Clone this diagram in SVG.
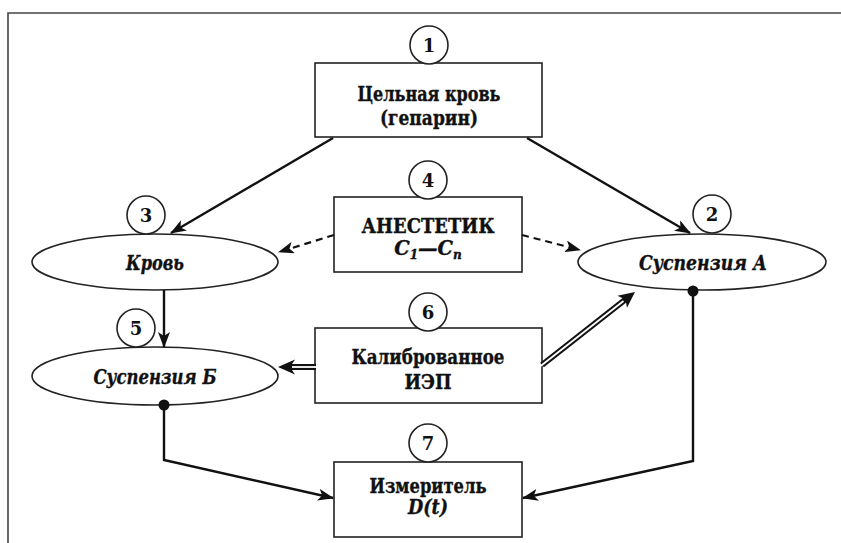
<svg xmlns="http://www.w3.org/2000/svg" width="841" height="543" viewBox="0 0 841 543" font-family="'DejaVu Serif', 'Liberation Serif', serif">
<defs>
<style>
.bx{fill:#fff;stroke:#222;stroke-width:1.6}
.el{fill:#fff;stroke:#222;stroke-width:1.6}
.num{fill:#fff;stroke:#222;stroke-width:1.6}
.t{font-weight:bold;font-size:19.5px;fill:#111;text-anchor:middle;stroke:#111;stroke-width:0.35}
.i{font-style:italic}
.n{font-weight:bold;font-size:18px;fill:#111;text-anchor:middle}
.ln{fill:none;stroke:#111;stroke-width:2.4}
.ds{fill:none;stroke:#111;stroke-width:2.2;stroke-dasharray:7 5}
</style>
<marker id="ah" viewBox="0 0 16 12" refX="15" refY="6" markerWidth="16" markerHeight="12" markerUnits="userSpaceOnUse" orient="auto">
<path d="M0,0 L16,6 L0,12 L4,6 z" fill="#111"/>
</marker>
</defs>
<rect x="0" y="0" width="841" height="543" fill="#fff"/>
<path d="M8,543 V13 H841" fill="none" stroke="#444" stroke-width="1.6"/>

<g id="n1">
<rect class="bx" x="315" y="63" width="227" height="74"/>
<circle class="num" cx="429" cy="45" r="19"/>
<text class="n" x="429" y="51.5">1</text>
<text class="t" x="429" y="101" textLength="143" lengthAdjust="spacingAndGlyphs">Цельная кровь</text>
<text class="t" x="429" y="125" textLength="98" lengthAdjust="spacingAndGlyphs">(гепарин)</text>
</g>

<g id="n3">
<ellipse class="el" cx="155" cy="262" rx="123" ry="28"/>
<circle class="num" cx="146" cy="215" r="19"/>
<text class="n" x="146" y="221.5">3</text>
<text class="t i" x="155" y="270" textLength="58" lengthAdjust="spacingAndGlyphs">Кровь</text>
</g>

<g id="n2">
<ellipse class="el" cx="702" cy="262" rx="124" ry="28"/>
<circle class="num" cx="712" cy="214" r="19"/>
<text class="n" x="712" y="220.5">2</text>
<text class="t i" x="703" y="270" textLength="128" lengthAdjust="spacingAndGlyphs">Суспензия А</text>
</g>

<g id="n4">
<rect class="bx" x="334" y="197" width="188" height="75"/>
<circle class="num" cx="428" cy="180" r="19"/>
<text class="n" x="428" y="186.5">4</text>
<text class="t" x="428" y="233" textLength="133" lengthAdjust="spacingAndGlyphs">АНЕСТЕТИК</text>
<text class="t i" x="428" y="255"><tspan>C</tspan><tspan font-size="12" dy="4">1</tspan><tspan dy="-4">—C</tspan><tspan font-size="12" dy="4">n</tspan></text>
</g>

<g id="n5">
<ellipse class="el" cx="155" cy="376" rx="123" ry="29"/>
<circle class="num" cx="136" cy="328" r="19"/>
<text class="n" x="136" y="334.5">5</text>
<text class="t i" x="155" y="384" textLength="123" lengthAdjust="spacingAndGlyphs">Суспензия Б</text>
</g>

<g id="n6">
<rect class="bx" x="315" y="328" width="227" height="75"/>
<circle class="num" cx="428" cy="312" r="19"/>
<text class="n" x="428" y="318.5">6</text>
<text class="t" x="428" y="364" textLength="153" lengthAdjust="spacingAndGlyphs">Калиброванное</text>
<text class="t" x="428" y="389" textLength="47" lengthAdjust="spacingAndGlyphs">ИЭП</text>
</g>

<g id="n7">
<rect class="bx" x="334" y="462" width="188" height="75"/>
<circle class="num" cx="428" cy="443" r="19"/>
<text class="n" x="428" y="449.5">7</text>
<text class="t" x="428" y="493" textLength="117" lengthAdjust="spacingAndGlyphs">Измеритель</text>
<text class="t i" x="428" y="514" textLength="40" lengthAdjust="spacingAndGlyphs">D(t)</text>
</g>

<g id="connectors">
<line class="ln" x1="333" y1="138" x2="171" y2="233" marker-end="url(#ah)"/>
<line class="ln" x1="527" y1="138" x2="690" y2="233" marker-end="url(#ah)"/>
<line class="ds" x1="334" y1="235" x2="279" y2="252" marker-end="url(#ah)"/>
<line class="ds" x1="522" y1="235" x2="580" y2="250" marker-end="url(#ah)"/>
<line class="ln" x1="164" y1="290" x2="164" y2="347" marker-end="url(#ah)"/>
<polyline class="ln" points="164,405 164,460 333,498" marker-end="url(#ah)"/>
<polyline class="ln" points="693,291 693,461 523,498" marker-end="url(#ah)"/>
<circle cx="164" cy="405" r="5.5" fill="#111"/>
<circle cx="693" cy="291" r="5.5" fill="#111"/>
<line x1="316" y1="367" x2="290" y2="367" stroke="#111" stroke-width="6"/>
<line x1="317" y1="367" x2="292" y2="367" stroke="#fff" stroke-width="1.8"/>
<polygon points="278,367 295,359.5 290,367 295,374.5" fill="#111"/>
<line x1="542" y1="365" x2="626" y2="299" stroke="#111" stroke-width="6"/>
<line x1="541" y1="365.8" x2="623.5" y2="301" stroke="#fff" stroke-width="1.8"/>
<polygon points="635,292 627,307.8 625.5,299.4 617.5,295.8" fill="#111"/>
</g>
</svg>
